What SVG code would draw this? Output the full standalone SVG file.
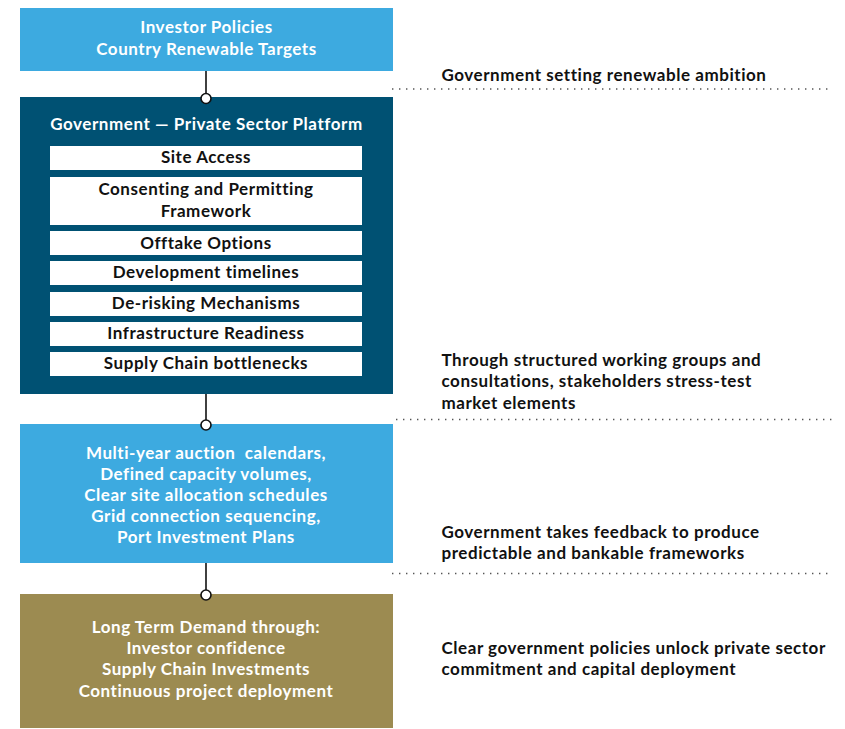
<svg xmlns="http://www.w3.org/2000/svg" width="845" height="729" viewBox="0 0 845 729">
<style>
  text { font-family: Lato, "Liberation Sans", sans-serif; font-weight: 700; font-size: 17px; letter-spacing: 0.55px; }
  .w { fill: #ffffff; text-anchor: middle; }
  .k { fill: #111111; text-anchor: middle; }
  .r { fill: #111111; }
  .bar { fill: #ffffff; }
  .dot { stroke: #555555; stroke-width: 1.4; stroke-dasharray: 1.4 5.6; fill: none; }
  .conn { stroke: #111111; stroke-width: 1.6; fill: none; }
  .pin { fill: #ffffff; stroke: #111111; stroke-width: 1.6; }
</style>
<rect width="845" height="729" fill="#ffffff"/>

<g id="node-investor">
  <rect x="20" y="8" width="373" height="63" fill="#3DAAE0"/>
  <text class="w" x="206.5" y="32.5">Investor Policies</text>
  <text class="w" x="206.5" y="54.5">Country Renewable Targets</text>
</g>

<g id="node-platform">
  <rect x="20" y="97" width="373" height="297" fill="#005173"/>
  <text class="w" x="206.5" y="130">Government — Private Sector Platform</text>
  <rect class="bar" x="50" y="146" width="312" height="24"/>
  <text class="k" x="206" y="163">Site Access</text>
  <rect class="bar" x="50" y="177" width="312" height="48"/>
  <text class="k" x="206" y="195">Consenting and Permitting</text>
  <text class="k" x="206" y="216.5">Framework</text>
  <rect class="bar" x="50" y="231" width="312" height="24"/>
  <text class="k" x="206" y="248.5">Offtake Options</text>
  <rect class="bar" x="50" y="261" width="312" height="24"/>
  <text class="k" x="206" y="277.5">Development timelines</text>
  <rect class="bar" x="50" y="292" width="312" height="24"/>
  <text class="k" x="206" y="308.5">De-risking Mechanisms</text>
  <rect class="bar" x="50" y="322" width="312" height="24"/>
  <text class="k" x="206" y="339">Infrastructure Readiness</text>
  <rect class="bar" x="50" y="352" width="312" height="24"/>
  <text class="k" x="206" y="368.5">Supply Chain bottlenecks</text>
</g>

<g id="node-frameworks">
  <rect x="20" y="424" width="373" height="139" fill="#3DAAE0"/>
  <text class="w" x="206" y="458.5" xml:space="preserve">Multi-year auction  calendars,</text>
  <text class="w" x="206" y="479.5">Defined capacity volumes,</text>
  <text class="w" x="206" y="500.5">Clear site allocation schedules</text>
  <text class="w" x="206" y="521.5">Grid connection sequencing,</text>
  <text class="w" x="206" y="542.5">Port Investment Plans</text>
</g>

<g id="node-demand">
  <rect x="20" y="594" width="373" height="134" fill="#9C8B51"/>
  <text class="w" x="206" y="633">Long Term Demand through:</text>
  <text class="w" x="206" y="654">Investor confidence</text>
  <text class="w" x="206" y="675">Supply Chain Investments</text>
  <text class="w" x="206" y="696.5">Continuous project deployment</text>
</g>

<g id="connectors">
  <line class="conn" x1="206" y1="71" x2="206" y2="94"/>
  <circle class="pin" cx="206" cy="98.5" r="5"/>
  <line class="conn" x1="206" y1="394" x2="206" y2="420"/>
  <circle class="pin" cx="206" cy="425" r="5"/>
  <line class="conn" x1="206" y1="563" x2="206" y2="590"/>
  <circle class="pin" cx="206" cy="595" r="5"/>
</g>

<g id="annotations">
  <text class="r" x="441.5" y="81">Government setting renewable ambition</text>
  <line class="dot" x1="392" y1="89" x2="833" y2="89"/>
  <text class="r" x="441.5" y="366">Through structured working groups and</text>
  <text class="r" x="441.5" y="387">consultations, stakeholders stress-test</text>
  <text class="r" x="441.5" y="408.5">market elements</text>
  <line class="dot" x1="396" y1="419.5" x2="833" y2="419.5"/>
  <text class="r" x="441.5" y="538">Government takes feedback to produce</text>
  <text class="r" x="441.5" y="558.5">predictable and bankable frameworks</text>
  <line class="dot" x1="392" y1="573.5" x2="833" y2="573.5"/>
  <text class="r" x="441.5" y="653.5">Clear government policies unlock private sector</text>
  <text class="r" x="441.5" y="675">commitment and capital deployment</text>
</g>
</svg>
